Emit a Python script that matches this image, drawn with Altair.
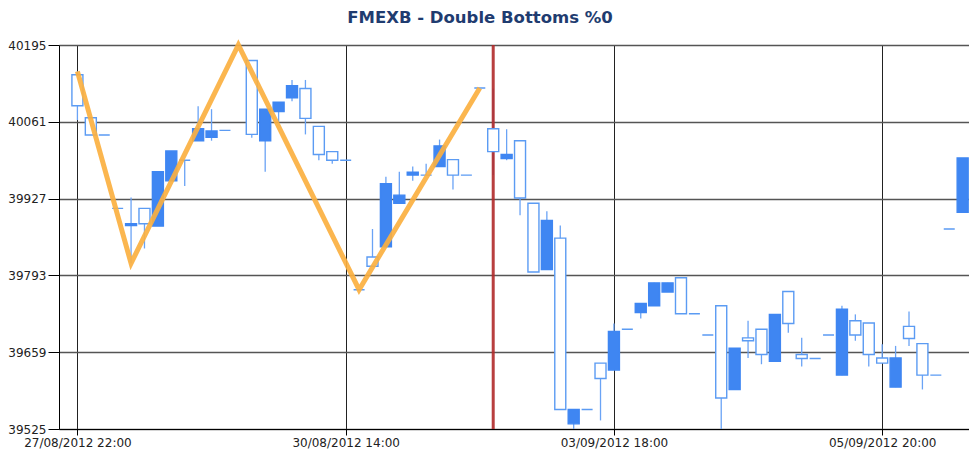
import altair as alt
import pandas as pd

# ---- data ----
opens = [40143, 40068, 40038, 39910, 39880, 39910, 39879, 39958, 39994, 40028,
         40034, 40046, None, 40168, 40028, 40079, 40103, 40119, 40053, 40009,
         39994, 39768, 39825, 39843, 39919, 39968, 39968, 39983, 39995, 39968,
         40120, 40049, 39997, 40028, 39919, 39803, 39858, 39534, 39559, 39640,
         39628, 39699, 39728, 39740, 39764, 39789, 39726, 39689, 39740, 39594,
         39684, 39699, 39643, 39765, 39655, 39648, 39689, 39619, 39714, 39710,
         39649, 39598, 39704, 39674, 39619, 39874, 39903]
highs = [40149, 40068, 40038, 39910, 39929, 39910, 39974, 40010, 39994, 40088,
         40083, 40046, None, 40168, 40083, 40095, 40134, 40134, 40053, 40009,
         39994, 39768, 39874, 39965, 39974, 39983, 39988, 40030, 39995, 39968,
         40120, 40119, 40048, 40028, 39919, 39905, 39880, 39559, 39559, 39640,
         39709, 39699, 39744, 39780, 39780, 39789, 39726, 39689, 39740, 39666,
         39714, 39699, 39725, 39765, 39684, 39648, 39689, 39740, 39725, 39710,
         39673, 39670, 39730, 39674, 39619, 39874, 39998]
lows = [40064, 40038, 40038, 39910, 39814, 39840, 39879, 39958, 39949, 40028,
        40028, 40046, None, 40033, 39974, 40061, 40097, 40039, 39994, 39988,
        39994, 39768, 39809, 39843, 39919, 39958, 39968, 39983, 39943, 39968,
        40120, 39968, 39994, 39898, 39799, 39803, 39559, 39525, 39559, 39540,
        39628, 39699, 39718, 39740, 39764, 39726, 39726, 39689, 39525, 39594,
        39649, 39638, 39643, 39693, 39634, 39648, 39689, 39619, 39679, 39634,
        39640, 39598, 39670, 39594, 39619, 39874, 39903]
closes = [40089, 40038, 40038, 39910, 39883, 39883, 39974, 40010, 39994, 40049,
          40045, 40046, None, 40039, 40083, 40095, 40124, 40067, 40004, 39994,
          39994, 39768, 39809, 39953, 39933, 39973, 39968, 40019, 39968, 39968,
          40120, 40009, 40004, 39928, 39799, 39889, 39559, 39559, 39559, 39613,
          39695, 39699, 39744, 39780, 39780, 39726, 39726, 39689, 39579, 39666,
          39679, 39655, 39725, 39709, 39648, 39648, 39689, 39734, 39689, 39655,
          39640, 39649, 39683, 39619, 39619, 39874, 39998]

zigzag_index = [0, 4, 12, 21, 30]
zigzag_value = [40149, 39814, 40195, 39768, 40120]

signal_index = [31]

tick_positions = [0, 20, 40, 60]
tick_labels = ["27/08/2012 22:00", "30/08/2012 14:00", "03/09/2012 18:00", "05/09/2012 20:00"]
y_ticks = [39525, 39659, 39793, 39927, 40061, 40195]

# ---- tables ----
rows = []
for i, (o, h, l, c) in enumerate(zip(opens, highs, lows, closes)):
    if o is None:
        continue
    rows.append(dict(i=i, open=o, high=h, low=l, close=c, up=c > o,
                     top=max(o, c), bot=min(o, c)))
df = pd.DataFrame(rows)
zdf = pd.DataFrame({"i": zigzag_index, "v": zigzag_value})
sdf = pd.DataFrame({"i": signal_index})

xs = alt.Scale(domain=[-1, 66.1], nice=False, zero=False)
ys = alt.Scale(domain=[39525, 40195], nice=False, zero=False)

label_expr = "[" + ",".join("'" + t + "'" for t in tick_labels) + "][round(datum.value/20)]"

x_axis = alt.Axis(values=tick_positions, labelExpr=label_expr, title=None, grid=True,
                  gridColor="#222", gridWidth=1, domainColor="#000", tickColor="#000",
                  tickSize=6, labelPadding=2, labelFont="DejaVu Sans", labelFontSize=12,
                  labelColor="#222", labelFlush=False, labelOverlap=False)
y_axis = alt.Axis(values=y_ticks, title=None, grid=True, gridColor="#555", gridWidth=1.3,
                  domainColor="#000", tickColor="#000", tickSize=11, labelPadding=2,
                  labelFont="DejaVu Sans", labelFontSize=12, labelColor="#222",
                  labelFlush=False, format="d")

X = alt.X("i:Q", scale=xs, axis=x_axis, title=None)

wicks = alt.Chart(df).mark_rule(color="#6aa3f5", strokeWidth=1.3).encode(
    x=X,
    y=alt.Y("low:Q", scale=ys, axis=y_axis, title=None),
    y2="high:Q",
)

signal = alt.Chart(sdf).mark_rule(color="#b02a2a", strokeWidth=3, opacity=0.9).encode(
    x=X
)

bodies = alt.Chart(df).mark_bar(size=11, strokeWidth=1.4, clip=True).encode(
    x=X,
    y=alt.Y("bot:Q", scale=ys, axis=y_axis, title=None),
    y2="top:Q",
    fill=alt.condition("datum.up", alt.value("#3f86f2"), alt.value("white")),
    stroke=alt.condition("datum.up", alt.value("#3f86f2"), alt.value("#5b9bf3")),
)

zigzag = alt.Chart(zdf).mark_line(color="#fbb040", strokeWidth=5, opacity=0.92).encode(
    x=X,
    y=alt.Y("v:Q", scale=ys, axis=y_axis, title=None),
)

chart = alt.layer(wicks, signal, bodies, zigzag).properties(
    width=910, height=384,
    padding={"left": 51, "top": 37, "right": 0, "bottom": 21},
    autosize=alt.AutoSizeParams(type="none"),
    title=alt.Title("FMEXB - Double Bottoms %0", font="DejaVu Sans", fontSize=16.5,
                    fontWeight="bold", color="#1f3c70", anchor="middle", dx=-34,
                    offset=9),
).configure_view(strokeWidth=0)

chart.save("out.html", embed_options={"renderer": "svg", "actions": False})
